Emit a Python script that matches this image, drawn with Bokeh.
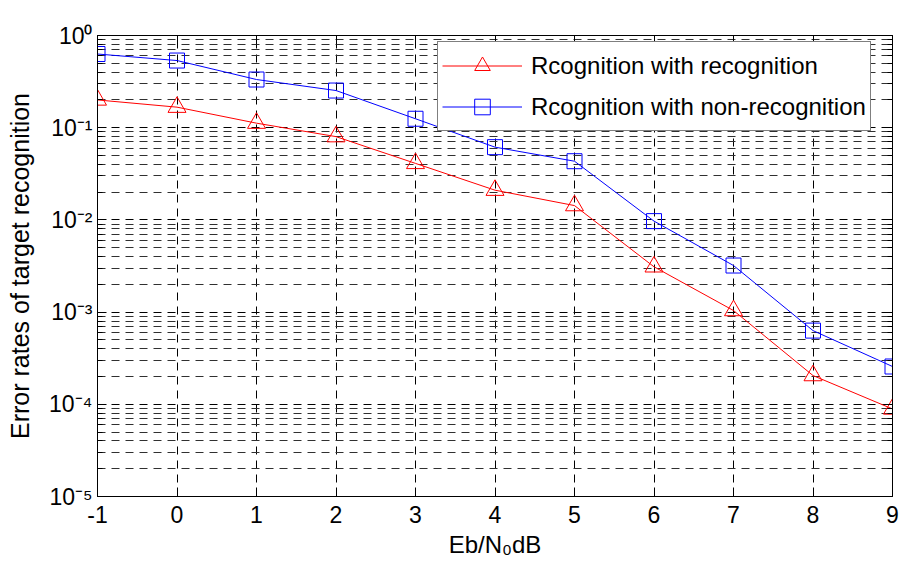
from bokeh.plotting import figure
from bokeh.models import (FixedTicker, LogAxis, LinearAxis, Legend, LegendItem,
                          CustomJSTickFormatter, Range1d)
from bokeh.embed import file_html
from bokeh.resources import INLINE

# ---- data ----
snr_db = [-1, 0, 1, 2, 3, 4, 5, 6, 7, 8, 9]
err_with_recognition = [0.20, 0.167, 0.112, 0.080, 0.041, 0.021, 0.0143, 0.0031, 0.00104, 0.000205, 0.000089]
err_non_recognition = [0.63, 0.535, 0.333, 0.253, 0.125, 0.0615, 0.0433, 0.0097, 0.0032, 0.00063, 0.000257]
x_ticks = [-1, 0, 1, 2, 3, 4, 5, 6, 7, 8, 9]
y_exponents = [0, -1, -2, -3, -4, -5]
y_tick_labels = ["10⁰", "10⁻¹", "10⁻²", "10⁻³", "10⁻⁴", "10⁻⁵"]
legend_labels = ["Rcognition with recognition", "Rcognition with non-recognition"]
x_label = "Eb/N₀dB"
y_label = "Error rates of target recognition"

FONT = "Liberation Sans"

major_y = [10.0 ** e for e in y_exponents]
minor_y = [m * 10.0 ** e for e in range(min(y_exponents), max(y_exponents)) for m in range(2, 10)]

p = figure(width=900, height=572, y_axis_type="log",
           x_range=Range1d(x_ticks[0], x_ticks[-1]), y_range=Range1d(min(major_y), max(major_y)),
           output_backend="svg", toolbar_location=None,
           min_border_left=97, min_border_right=8, min_border_top=35, min_border_bottom=76)
p.background_fill_color = "white"
p.border_fill_color = "white"
p.outline_line_color = "black"
p.outline_line_width = 1


def style_axis(ax, minor=True):
    ax.axis_line_color = "black"
    ax.axis_line_width = 1
    ax.major_tick_line_color = "black"
    ax.major_tick_in = 9
    ax.major_tick_out = 0
    if minor:
        ax.minor_tick_line_color = "black"
        ax.minor_tick_in = 5
        ax.minor_tick_out = 0
    else:
        ax.minor_tick_line_color = None


yt = FixedTicker(ticks=major_y, minor_ticks=minor_y)
xt = FixedTicker(ticks=x_ticks)

# left (log) axis with 10^k labels
p.yaxis.ticker = yt
p.yaxis.formatter = CustomJSTickFormatter(
    args=dict(exps=y_exponents, labels=y_tick_labels),
    code="""
const e = Math.round(Math.log10(tick));
const i = exps.indexOf(e);
return i >= 0 ? labels[i] : '';
""")
style_axis(p.yaxis[0])
p.yaxis.major_label_text_font = FONT
p.yaxis.major_label_text_font_size = "23px"
p.yaxis.major_label_text_color = "black"
p.yaxis.major_label_standoff = 5
p.yaxis.axis_label = y_label
p.yaxis.axis_label_text_font = FONT
p.yaxis.axis_label_text_font_size = "25px"
p.yaxis.axis_label_text_font_style = "normal"
p.yaxis.axis_label_text_color = "black"
p.yaxis.axis_label_standoff = 12

# bottom axis
p.xaxis.ticker = xt
p.xaxis.formatter = CustomJSTickFormatter(code="return tick.toFixed(0)")
style_axis(p.xaxis[0], minor=False)
p.xaxis.major_label_text_font = FONT
p.xaxis.major_label_text_font_size = "23px"
p.xaxis.major_label_text_color = "black"
p.xaxis.major_label_standoff = 9
p.xaxis.axis_label = x_label
p.xaxis.axis_label_text_font = FONT
p.xaxis.axis_label_text_font_size = "24px"
p.xaxis.axis_label_text_font_style = "normal"
p.xaxis.axis_label_text_color = "black"
p.xaxis.axis_label_standoff = 5

# box axes (ticks only)
top_axis = LinearAxis(ticker=FixedTicker(ticks=x_ticks), formatter=CustomJSTickFormatter(code="return ''"),
                      major_label_standoff=0)
style_axis(top_axis, minor=False)
p.add_layout(top_axis, "above")

right_axis = LogAxis(ticker=FixedTicker(ticks=major_y, minor_ticks=minor_y),
                     formatter=CustomJSTickFormatter(code="return ''"), major_label_standoff=0)
style_axis(right_axis)
p.add_layout(right_axis, "right")

# grids
p.xgrid.ticker = xt
p.xgrid.grid_line_color = "black"
p.xgrid.grid_line_dash = "8 6"
p.xgrid.grid_line_width = 1
p.ygrid.ticker = yt
p.ygrid.grid_line_color = "black"
p.ygrid.grid_line_dash = "8 6"
p.ygrid.grid_line_width = 1
p.ygrid.minor_grid_line_color = "#303030"
p.ygrid.minor_grid_line_dash = "8 6"
p.ygrid.minor_grid_line_width = 1

# series
l1 = p.line(snr_db, err_with_recognition, line_color="#ff0000", line_width=1)
m1 = p.scatter(snr_db, err_with_recognition, marker="triangle", size=18,
               line_color="#ff0000", fill_color=None, line_width=1)
l2 = p.line(snr_db, err_non_recognition, line_color="#0000ff", line_width=1)
m2 = p.scatter(snr_db, err_non_recognition, marker="square", size=15,
               line_color="#0000ff", fill_color=None, line_width=1)

legend = Legend(items=[LegendItem(label=legend_labels[0], renderers=[l1, m1]),
                       LegendItem(label=legend_labels[1], renderers=[l2, m2])],
                location=(340, 365), margin=0, padding=4, spacing=2,
                glyph_width=80, glyph_height=39, label_standoff=9,
                label_text_font=FONT, label_text_font_size="24px", label_text_color="black",
                border_line_color="black", border_line_width=1,
                background_fill_color="white", background_fill_alpha=1.0)
p.add_layout(legend)

open("out.html", "w").write(file_html(p, INLINE))
